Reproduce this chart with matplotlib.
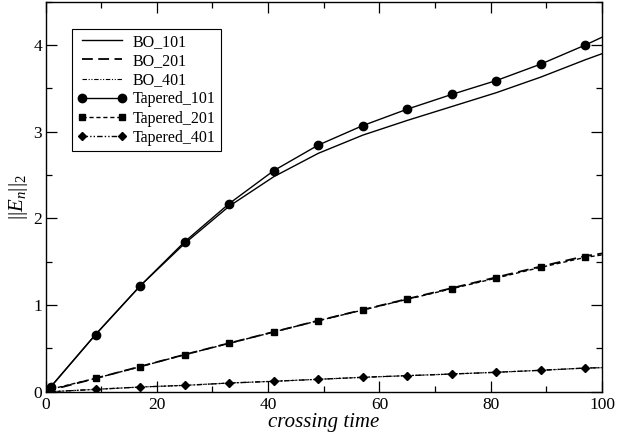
import matplotlib
matplotlib.use("Agg")
import matplotlib.pyplot as plt
from matplotlib.ticker import MultipleLocator

plt.rcParams['font.family'] = ['Liberation Serif', 'DejaVu Serif']
plt.rcParams['mathtext.fontset'] = 'custom'
plt.rcParams['mathtext.rm'] = 'Liberation Serif'
plt.rcParams['mathtext.it'] = 'Liberation Serif:italic'

# crossing times where the tapered runs are sampled
t_tap = [1, 9, 17, 25, 33, 41, 49, 57, 65, 73, 81, 89, 97, 100]
tap_101 = [0.06, 0.66, 1.22, 1.73, 2.17, 2.55, 2.845, 3.07, 3.26, 3.43, 3.59, 3.78, 4.0, 4.09]
tap_201 = [0.03, 0.154, 0.288, 0.427, 0.558, 0.689, 0.819, 0.942, 1.066, 1.188, 1.311, 1.435, 1.55, 1.578]
tap_401 = [0.0, 0.027, 0.054, 0.073, 0.10, 0.12, 0.143, 0.166, 0.185, 0.204, 0.224, 0.247, 0.273, 0.277]

# BO runs
t_bo = [0, 1, 9, 17, 25, 33, 41, 49, 57, 65, 73, 81, 89, 97, 100]
bo_101 = [0.0, 0.06, 0.66, 1.22, 1.71, 2.14, 2.48, 2.75, 2.96, 3.13, 3.29, 3.45, 3.63, 3.83, 3.90]
bo_201 = [0.0, 0.02, 0.154, 0.29, 0.428, 0.56, 0.69, 0.82, 0.945, 1.07, 1.195, 1.32, 1.445, 1.565, 1.595]
bo_401 = [0.0, 0.0, 0.027, 0.054, 0.073, 0.10, 0.12, 0.143, 0.166, 0.185, 0.204, 0.224, 0.247, 0.273, 0.277]

fig = plt.figure(figsize=(6.18, 4.36), dpi=100)
ax = fig.add_axes([45.5/618, 1 - 391.7/436, (602 - 45.5)/618, 390/436])

dashdotdot = (0, (4, 1.5, 1, 1.5, 1, 1.5))
marks = list(range(len(t_tap) - 1))   # no marker on the end point at t=100

ax.plot(t_bo, bo_101, color='black', lw=1.0, ls='-', label='BO_101')
ax.plot(t_bo, bo_201, color='black', lw=1.3, ls=(0, (6, 3)), label='BO_201')
ax.plot(t_bo, bo_401, color='black', lw=0.8, ls=dashdotdot, label='BO_401')
ax.plot(t_tap, tap_101, color='black', lw=1.0, ls='-', marker='o', ms=6,
        markevery=marks, label='Tapered_101')
ax.plot(t_tap, tap_201, color='black', lw=1.0, ls=(0, (3, 2)), marker='s', ms=5,
        markevery=marks, label='Tapered_201')
ax.plot(t_tap, tap_401, color='black', lw=1.0, ls=dashdotdot, marker='D', ms=4.5,
        markevery=marks, label='Tapered_401')

ax.set_xlim(0, 100)
ax.set_ylim(0, 4.5)
ax.xaxis.set_major_locator(MultipleLocator(20))
ax.xaxis.set_minor_locator(MultipleLocator(10))
ax.yaxis.set_major_locator(MultipleLocator(1))
ax.yaxis.set_minor_locator(MultipleLocator(0.5))
ax.tick_params(which='both', direction='in', top=True, right=True, labelsize=12.5, width=0.9)
ax.tick_params(which='major', length=8)
ax.tick_params(which='minor', length=4)
ax.tick_params(axis='x', pad=3.5)
ax.tick_params(axis='y', pad=2.5)
for s in ax.spines.values():
    s.set_linewidth(1.0)

ax.set_xlabel('crossing time', fontsize=15, style='italic', labelpad=0)
ax.set_ylabel(r'$||E_n||_2$', fontsize=15, labelpad=2)

leg = ax.legend(loc='upper left', bbox_to_anchor=(0.048, 0.930), borderaxespad=0,
                fontsize=11.5, numpoints=2, handlelength=3.1, labelspacing=0.2,
                fancybox=False, framealpha=1, edgecolor='black', borderpad=0.3,
                handletextpad=0.4)
leg.get_frame().set_linewidth(0.8)

fig.savefig('out.png', dpi=100)
